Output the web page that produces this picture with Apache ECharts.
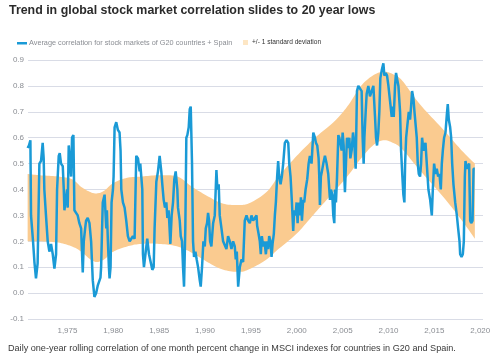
<!DOCTYPE html>
<html>
<head>
<meta charset="utf-8">
<script src="https://cdn.jsdelivr.net/npm/echarts@6/dist/echarts.min.js"></script>
<style>html,body{margin:0;padding:0;background:#fff;}#chart{width:500px;height:357px;}</style>
</head>
<body>
<div id="chart"></div>
<script>
// Blue line: average correlation (year, value)
const corrYears = [1970.66,1970.8,1970.96,1971.03,1971.14,1971.25,1971.4,1971.57,1971.75,1971.94,1972.12,1972.3,1972.41,1972.48,1972.66,1972.85,1973.03,1973.21,1973.4,1973.58,1973.76,1973.87,1974.05,1974.16,1974.3,1974.49,1974.6,1974.67,1974.85,1974.96,1975.03,1975.14,1975.29,1975.4,1975.5,1975.65,1975.76,1975.94,1976.12,1976.3,1976.49,1976.67,1976.78,1976.93,1977.03,1977.21,1977.4,1977.58,1977.76,1977.94,1978.13,1978.31,1978.5,1978.6,1978.67,1978.85,1979.05,1979.16,1979.23,1979.3,1979.41,1979.52,1979.59,1979.7,1979.81,1979.96,1980.03,1980.14,1980.32,1980.5,1980.68,1980.79,1980.87,1981.05,1981.23,1981.41,1981.59,1981.78,1981.96,1982.14,1982.32,1982.5,1982.69,1982.87,1982.94,1983.05,1983.16,1983.23,1983.34,1983.52,1983.7,1983.89,1984.07,1984.25,1984.4,1984.5,1984.69,1984.87,1985.05,1985.23,1985.34,1985.49,1985.63,1985.78,1985.89,1986.03,1986.22,1986.36,1986.51,1986.65,1986.8,1986.98,1987.05,1987.24,1987.35,1987.49,1987.6,1987.71,1987.85,1987.96,1988.07,1988.22,1988.33,1988.44,1988.58,1988.69,1988.8,1988.95,1989.09,1989.24,1989.42,1989.53,1989.67,1989.82,1989.97,1990.08,1990.22,1990.33,1990.44,1990.55,1990.69,1990.88,1991.06,1991.24,1991.35,1991.49,1991.6,1991.79,1991.97,1992.15,1992.33,1992.51,1992.7,1992.88,1993.06,1993.24,1993.35,1993.46,1993.61,1993.79,1993.97,1994.15,1994.33,1994.52,1994.7,1994.88,1995.06,1995.24,1995.43,1995.61,1995.68,1995.83,1995.97,1996.08,1996.19,1996.34,1996.48,1996.63,1996.77,1996.88,1996.99,1997.14,1997.25,1997.36,1997.5,1997.61,1997.72,1997.86,1997.97,1998.08,1998.23,1998.37,1998.52,1998.7,1998.88,1999.07,1999.18,1999.32,1999.47,1999.61,1999.72,1999.87,1999.98,2000.09,2000.19,2000.34,2000.45,2000.56,2000.7,2000.81,2000.96,2001.14,2001.29,2001.43,2001.61,2001.8,2001.98,2002.09,2002.23,2002.38,2002.45,2002.52,2002.63,2002.74,2002.89,2003.07,2003.25,2003.43,2003.62,2003.73,2003.87,2003.98,2004.09,2004.16,2004.27,2004.38,2004.53,2004.64,2004.74,2004.89,2005.0,2005.11,2005.18,2005.25,2005.36,2005.47,2005.62,2005.73,2005.84,2005.98,2006.13,2006.27,2006.42,2006.56,2006.71,2006.89,2007.07,2007.18,2007.29,2007.37,2007.51,2007.62,2007.8,2007.98,2008.17,2008.35,2008.53,2008.64,2008.75,2008.89,2009.0,2009.11,2009.26,2009.44,2009.55,2009.7,2009.84,2009.99,2010.17,2010.35,2010.46,2010.57,2010.71,2010.82,2010.93,2011.08,2011.26,2011.37,2011.51,2011.62,2011.73,2011.81,2011.92,2012.06,2012.21,2012.35,2012.46,2012.57,2012.72,2012.83,2012.93,2013.08,2013.19,2013.3,2013.44,2013.55,2013.66,2013.81,2013.92,2014.03,2014.17,2014.35,2014.54,2014.72,2014.83,2014.97,2015.12,2015.26,2015.41,2015.55,2015.7,2015.81,2015.92,2016.06,2016.21,2016.36,2016.46,2016.57,2016.72,2016.83,2016.94,2017.08,2017.27,2017.45,2017.59,2017.74,2017.81,2017.96,2018.1,2018.21,2018.32,2018.39,2018.54,2018.68,2018.79,2018.9,2019.01,2019.16,2019.27,2019.41];
const corrValues = [0.56,0.57,0.59,0.30,0.25,0.20,0.12,0.057,0.115,0.50,0.51,0.58,0.52,0.40,0.30,0.20,0.16,0.19,0.15,0.095,0.15,0.40,0.53,0.54,0.50,0.49,0.40,0.32,0.32,0.40,0.33,0.57,0.57,0.45,0.60,0.61,0.32,0.31,0.30,0.27,0.25,0.08,0.20,0.25,0.28,0.29,0.27,0.20,0.05,-0.015,0.0,0.03,0.03,0.06,0.10,0.35,0.38,0.30,0.25,0.32,0.20,0.10,0.057,0.10,0.35,0.40,0.45,0.64,0.66,0.63,0.62,0.55,0.40,0.35,0.33,0.28,0.22,0.20,0.21,0.22,0.21,0.53,0.52,0.47,0.50,0.45,0.40,0.15,0.10,0.10,0.21,0.15,0.12,0.09,0.10,0.25,0.43,0.47,0.53,0.47,0.42,0.36,0.33,0.35,0.29,0.32,0.19,0.30,0.35,0.44,0.47,0.40,0.33,0.28,0.22,0.20,0.10,0.025,0.25,0.60,0.61,0.64,0.71,0.72,0.50,0.20,0.14,0.16,0.13,0.10,0.05,0.025,0.10,0.20,0.18,0.25,0.27,0.31,0.28,0.20,0.18,0.27,0.30,0.475,0.40,0.42,0.30,0.25,0.20,0.20,0.17,0.22,0.20,0.17,0.20,0.18,0.13,0.16,0.025,0.10,0.13,0.12,0.28,0.30,0.28,0.27,0.30,0.28,0.29,0.30,0.26,0.23,0.20,0.15,0.22,0.18,0.20,0.15,0.20,0.17,0.22,0.20,0.14,0.19,0.23,0.30,0.35,0.45,0.51,0.45,0.42,0.45,0.50,0.58,0.59,0.58,0.50,0.45,0.35,0.24,0.32,0.30,0.35,0.27,0.35,0.30,0.37,0.28,0.36,0.35,0.40,0.44,0.50,0.53,0.50,0.62,0.60,0.58,0.57,0.52,0.45,0.34,0.45,0.47,0.50,0.53,0.50,0.46,0.36,0.40,0.38,0.30,0.27,0.40,0.35,0.44,0.61,0.60,0.58,0.55,0.62,0.57,0.45,0.39,0.50,0.60,0.56,0.60,0.52,0.55,0.62,0.58,0.48,0.78,0.80,0.80,0.78,0.60,0.50,0.60,0.70,0.77,0.80,0.76,0.76,0.80,0.68,0.60,0.57,0.62,0.70,0.83,0.86,0.887,0.84,0.85,0.84,0.80,0.74,0.68,0.72,0.68,0.80,0.85,0.85,0.80,0.70,0.55,0.45,0.38,0.35,0.50,0.60,0.65,0.70,0.67,0.72,0.78,0.75,0.70,0.70,0.60,0.50,0.46,0.45,0.50,0.60,0.55,0.57,0.58,0.50,0.40,0.36,0.30,0.40,0.50,0.46,0.48,0.45,0.46,0.40,0.50,0.55,0.60,0.62,0.69,0.73,0.67,0.64,0.60,0.50,0.42,0.35,0.30,0.25,0.20,0.15,0.14,0.15,0.20,0.45,0.51,0.48,0.48,0.50,0.28,0.27,0.28,0.48,0.48];

// +/- 1 standard deviation band
const bandYears = [1970.66,1972,1974,1975.5,1976.5,1977.5,1978.2,1979,1980,1981.5,1983,1985,1987,1988.6,1990.5,1992,1993.8,1995,1996.7,1998,2000,2002,2004,2005.5,2007,2008.3,2009.4,2010.5,2011.5,2013.4,2016,2018,2019.41];
const bandLower = [0.20,0.20,0.195,0.18,0.16,0.13,0.12,0.13,0.16,0.18,0.19,0.19,0.18,0.155,0.115,0.09,0.082,0.095,0.13,0.17,0.23,0.31,0.39,0.45,0.52,0.57,0.59,0.58,0.555,0.475,0.37,0.28,0.21];
const bandUpper = [0.46,0.455,0.45,0.44,0.41,0.39,0.385,0.395,0.425,0.445,0.45,0.455,0.45,0.41,0.37,0.345,0.34,0.35,0.39,0.45,0.53,0.60,0.66,0.72,0.80,0.84,0.855,0.845,0.82,0.73,0.63,0.55,0.50];

const xTickLabels = [1975,1980,1985,1990,1995,2000,2005,2010,2015,2020];
const titleText = 'Trend in global stock market correlation slides to 20 year lows';
const legendLine = 'Average correlation for stock markets of G20 countries + Spain';
const legendBand = '+/- 1 standard deviation';
const footText = 'Daily one-year rolling correlation of one month percent change in MSCI indexes for countries in G20 and Spain.';

const BLUE = '#1a9ad6';
const ORANGE = '#facb90';

const bandData = bandYears.map((y, i) => [y, bandLower[i], bandUpper[i]]);

// Catmull-Rom spline through pixel points (rendering only)
function spline(pts) {
  const out = [];
  const n = pts.length;
  for (let i = 0; i < n - 1; i++) {
    const p0 = pts[i - 1] || pts[i], p1 = pts[i], p2 = pts[i + 1], p3 = pts[i + 2] || pts[i + 1];
    const c1 = [p1[0] + (p2[0] - p0[0]) / 6, p1[1] + (p2[1] - p0[1]) / 6];
    const c2 = [p2[0] - (p3[0] - p1[0]) / 6, p2[1] - (p3[1] - p1[1]) / 6];
    const steps = 10;
    for (let s = 0; s < steps; s++) {
      const t = s / steps, u = 1 - t;
      out.push([
        u*u*u*p1[0] + 3*u*u*t*c1[0] + 3*u*t*t*c2[0] + t*t*t*p2[0],
        u*u*u*p1[1] + 3*u*u*t*c1[1] + 3*u*t*t*c2[1] + t*t*t*p2[1]
      ]);
    }
  }
  out.push(pts[n - 1]);
  return out;
}

const chart = echarts.init(document.getElementById('chart'), null, {renderer: 'canvas'});
chart.setOption({
  animation: false,
  backgroundColor: '#fff',
  grid: {left: 28, right: 17, top: 60, bottom: 38, containLabel: false},
  xAxis: {
    type: 'value', min: 1970.7, max: 2020.3,
    axisLine: {show: false}, axisTick: {show: false}, splitLine: {show: false},
    axisLabel: {customValues: xTickLabels, color: '#8a8d93', fontSize: 8, fontFamily: 'Liberation Sans', margin: 8}
  },
  yAxis: {
    type: 'value', min: -0.1, max: 0.9, interval: 0.1,
    axisLine: {show: false}, axisTick: {show: false},
    splitLine: {lineStyle: {color: '#d9dce6', width: 1}},
    axisLabel: {color: '#8a8d93', fontSize: 8, fontFamily: 'Liberation Sans', margin: 4,
      formatter: v => v.toFixed(1)}
  },
  graphic: [
    {type: 'text', left: 9, top: 5, style: {text: titleText, font: 'bold 12.4px "Liberation Sans"', fill: '#2b2b2b'}},
    {type: 'rect', shape: {x: 17, y: 42, width: 10, height: 2.5}, style: {fill: BLUE}},
    {type: 'text', left: 29, top: 39, style: {text: legendLine, font: '7.3px "Liberation Sans"', fill: '#8a8d93'}},
    {type: 'rect', shape: {x: 243, y: 40, width: 5, height: 5}, style: {fill: '#fde6c4'}},
    {type: 'text', left: 252, top: 38.5, style: {text: legendBand, font: '6.6px "Liberation Sans"', fill: '#333'}},
    {type: 'text', left: 8, top: 344, style: {text: footText, font: '9.1px "Liberation Sans"', fill: '#3a3a3a'}}
  ],
  series: [
    {type: 'custom', name: legendBand, silent: true, z: 1,
      data: bandData,
      encode: {x: 0, y: [1, 2]},
      renderItem: function (params, api) {
        if (params.dataIndex !== 0) return null;
        const upper = spline(bandData.map(d => api.coord([d[0], d[2]])));
        const lower = spline(bandData.map(d => api.coord([d[0], d[1]]))).reverse();
        return {
          type: 'polygon',
          shape: {points: upper.concat(lower)},
          style: {fill: ORANGE, stroke: null}
        };
      }
    },
    {type: 'line', name: legendLine, symbol: 'none', lineStyle: {color: BLUE, width: 2.5}, z: 3,
      data: corrYears.map((y, i) => [y, corrValues[i]])}
  ]
});
</script>
</body>
</html>
